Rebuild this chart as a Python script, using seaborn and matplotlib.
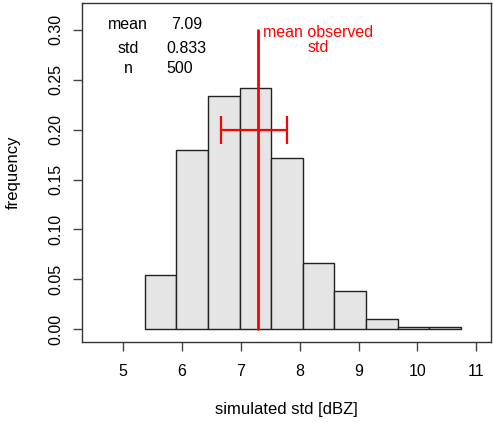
import numpy as np
import pandas as pd
import matplotlib
matplotlib.use('Agg')
import matplotlib.pyplot as plt
import seaborn as sns

sns.set_style("ticks", {'text.color': 'black', 'axes.labelcolor': 'black',
                        'xtick.color': 'black', 'ytick.color': 'black'})
plt.rcParams['font.family'] = ['Liberation Sans', 'DejaVu Sans']

# histogram data (500 simulations)
bin_edges = [5.368, 5.905, 6.442, 6.979, 7.516, 8.053, 8.590, 9.127, 9.664, 10.201, 10.738]
frequency = [0.054, 0.180, 0.234, 0.242, 0.172, 0.066, 0.038, 0.010, 0.002, 0.002]

# observed values
obs_mean = 7.283
obs_std_lo = 6.656
obs_std_hi = 7.786
err_y = 0.20

stat_names = ['mean', 'std', 'n']
stat_values = ['7.09', '0.833', '500']

x_ticks = [5, 6, 7, 8, 9, 10, 11]
y_ticks = [0.00, 0.05, 0.10, 0.15, 0.20, 0.25, 0.30]

centers = [(bin_edges[i] + bin_edges[i + 1]) / 2 for i in range(len(frequency))]
df = pd.DataFrame({'x': centers, 'freq': frequency})

fs = 11.5
fig = plt.figure(figsize=(4.93, 4.22), dpi=100)
ax = fig.add_axes([0.1663, 0.1896, 0.8296, 0.8033])

sns.histplot(data=df, x='x', weights='freq', bins=bin_edges, ax=ax,
             color='#e5e5e5', alpha=1, edgecolor='#222222', linewidth=1)

# observed mean line and std bar
ax.plot([obs_mean, obs_mean], [0, 0.30], color='red', lw=2)
ax.errorbar([(obs_std_lo + obs_std_hi) / 2], [err_y],
            xerr=[[(obs_std_hi - obs_std_lo) / 2]], fmt='none',
            ecolor='red', elinewidth=1.6, capsize=10, capthick=1.6)
ax.text(8.32, 0.290, 'mean observed\nstd', color='red', fontsize=fs,
        ha='center', va='center', linespacing=1.0)

ys = [0.3056, 0.2815, 0.2614]
xs = [5.82, 5.74, 5.74]
for name, val, xx, yy in zip(stat_names, stat_values, xs, ys):
    ax.text(5.08, yy, name, fontsize=fs, ha='center', va='center')
    ax.text(xx, yy, val, fontsize=fs, ha='left', va='center')

ax.set_xlim(4.30, 11.25)
ax.set_ylim(-0.0128, 0.327)
ax.set_xticks(x_ticks)
ax.set_yticks(y_ticks)
ax.set_yticklabels(['%.2f' % v for v in y_ticks], rotation=90, va='center')
ax.tick_params(axis='both', labelsize=fs, length=6.5, width=1, color='#444444')
ax.tick_params(axis='x', pad=9)
ax.tick_params(axis='y', pad=7)
ax.set_xlabel('simulated std [dBZ]', fontsize=12, labelpad=17)
ax.set_ylabel('frequency', fontsize=12, labelpad=20)
for s in ax.spines.values():
    s.set_visible(True)
    s.set_color('#333333')
    s.set_linewidth(1)

fig.savefig('out.png', dpi=100)
